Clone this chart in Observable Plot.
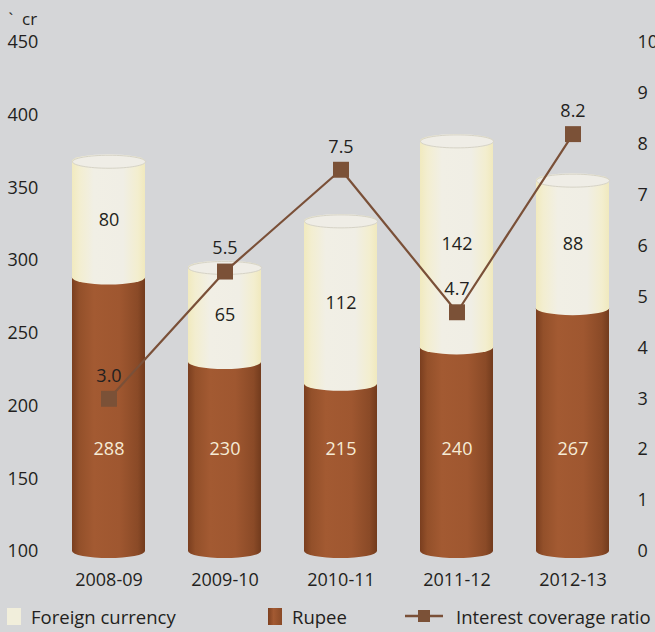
<!DOCTYPE html>
<html>
<head>
<meta charset="utf-8">
<script src="https://cdn.jsdelivr.net/npm/d3@7"></script>
<script src="https://cdn.jsdelivr.net/npm/@observablehq/plot@0.6"></script>
<style>
  html, body { margin: 0; padding: 0; background: #d5d6d8; overflow: hidden; }
  #wrap { width: 655px; height: 632px; position: relative; font-family: "Open Sans", sans-serif; color: #231f20; }
  #legend { position: absolute; left: 0; top: 600px; width: 655px; height: 32px; font-size: 18.5px; }
  #legend .item { position: absolute; top: 4px; display: flex; align-items: center; height: 24px; }
  #legend .sw { width: 14px; height: 17px; margin-right: 10px; }
</style>
</head>
<body>
<div id="wrap">
  <div id="chart"></div>
  <div id="legend">
    <div class="item" style="left:7px"><div class="sw" style="background:#f1eedb"></div>Foreign currency</div>
    <div class="item" style="left:268px"><div class="sw" style="background:linear-gradient(90deg,#7d4020,#a35a32 40%,#8a4a27)"></div>Rupee</div>
    <div class="item" style="left:405px"><svg width="38" height="16" style="margin-right:13px"><line x1="0" x2="38" y1="8" y2="8" stroke="#7a5038" stroke-width="2.5"/><rect x="13" y="2" width="12" height="12" fill="#7b5137"/></svg>Interest coverage ratio</div>
  </div>
</div>
<script>
const years = ["2008-09", "2009-10", "2010-11", "2011-12", "2012-13"];
const rupee = [288, 230, 215, 240, 267];
const foreign = [80, 65, 112, 142, 88];
const coverage = [3.0, 5.5, 7.5, 4.7, 8.2];
const leftTicks = [100, 150, 200, 250, 300, 350, 400, 450];
const rightTicks = [0, 1, 2, 3, 4, 5, 6, 7, 8, 9, 10];

// right axis (0-10) mapped onto left scale (100-450)
const toLeft = r => 100 + r * 35;

const rows = years.map((y, i) => ({
  year: y, rupee: rupee[i], foreign: foreign[i], total: rupee[i] + foreign[i], ratio: coverage[i]
}));

const W = 655, ML = 48, MR = 23;
const step = (W - ML - MR) / years.length;
const bw = step * 0.625;
const RX = bw / 2, RY = 7;
const FS = 18;

const ellipse = {
  draw(ctx) {
    const k = 0.5523, rx = RX, ry = 6.5;
    ctx.moveTo(rx, 0);
    ctx.bezierCurveTo(rx, ry * k, rx * k, ry, 0, ry);
    ctx.bezierCurveTo(-rx * k, ry, -rx, ry * k, -rx, 0);
    ctx.bezierCurveTo(-rx, -ry * k, -rx * k, -ry, 0, -ry);
    ctx.bezierCurveTo(rx * k, -ry, rx, -ry * k, rx, 0);
    ctx.closePath();
  }
};

const plot = Plot.plot({
  width: W,
  height: 600,
  marginLeft: ML,
  marginRight: MR,
  marginTop: 42,
  marginBottom: 49,
  style: { background: "transparent", fontSize: FS + "px", fontFamily: "'Open Sans', sans-serif", color: "#231f20" },
  x: { type: "band", domain: years, paddingInner: 0.375, paddingOuter: 0.1875, label: null },
  y: { domain: [100, 450], label: null },
  marks: [
    Plot.barY(rows, { x: "year", y1: 100, y2: "rupee", fill: "url(#gRupee)", rx: RX, ry: RY, insetTop: -RY, insetBottom: -RY }),
    Plot.barY(rows, { x: "year", y1: "rupee", y2: "total", fill: "url(#gForeign)", rx: RX, ry: RY, insetTop: -RY, insetBottom: -RY }),
    Plot.dot(rows, { x: "year", y: "total", symbol: ellipse, r: 5, fill: "#efede6", stroke: "#d6d3c6", strokeWidth: 1 }),
    Plot.text(rows, { x: "year", y: () => 170, text: d => String(d.rupee), fill: "#f6ecd6", fontSize: FS }),
    Plot.text(rows, { x: "year", y: d => (d.rupee + d.total) / 2, text: d => String(d.foreign), fill: "#231f20", fontSize: FS }),
    Plot.line(rows, { x: "year", y: d => toLeft(d.ratio), stroke: "#7a5038", strokeWidth: 2.2 }),
    Plot.dot(rows, { x: "year", y: d => toLeft(d.ratio), symbol: "square", r: 9, fill: "#7b5137" }),
    Plot.text(rows, { x: "year", y: d => toLeft(d.ratio), text: d => d.ratio.toFixed(1), dy: -23, fill: "#231f20", fontSize: FS }),
    Plot.axisX({ tickSize: 0, tickPadding: 22, label: null, fontSize: FS }),
    Plot.axisY(leftTicks, { anchor: "left", tickSize: 0, tickPadding: 41, textAnchor: "start", label: null, fontSize: FS }),
    Plot.axisY(rightTicks.map(toLeft), { anchor: "right", tickSize: 0, tickPadding: 5, textAnchor: "start", label: null, tickFormat: v => String(Math.round((v - 100) / 35)), fontSize: FS }),
    Plot.text(["`  cr"], { frameAnchor: "top-left", dx: -40, dy: -30, textAnchor: "start", fontSize: 17, fill: "#231f20" })
  ]
});

// gradients for cylinder look
const svg = d3.select(plot);
const defs = svg.insert("defs", ":first-child");
function grad(id, stops) {
  const g = defs.append("linearGradient").attr("id", id).attr("x1", "0").attr("x2", "1").attr("y1", "0").attr("y2", "0");
  stops.forEach(([o, c]) => g.append("stop").attr("offset", o).attr("stop-color", c));
}
grad("gRupee", [["0%", "#7a3e1f"], ["10%", "#93502a"], ["30%", "#a35a32"], ["65%", "#9f5730"], ["90%", "#8a4a27"], ["100%", "#723b1d"]]);
grad("gForeign", [["0%", "#f1eabf"], ["10%", "#f3eed0"], ["30%", "#f1efe5"], ["70%", "#f0eee5"], ["90%", "#f3eecf"], ["100%", "#f0e9be"]]);

document.getElementById("chart").appendChild(plot);
</script>
</body>
</html>
